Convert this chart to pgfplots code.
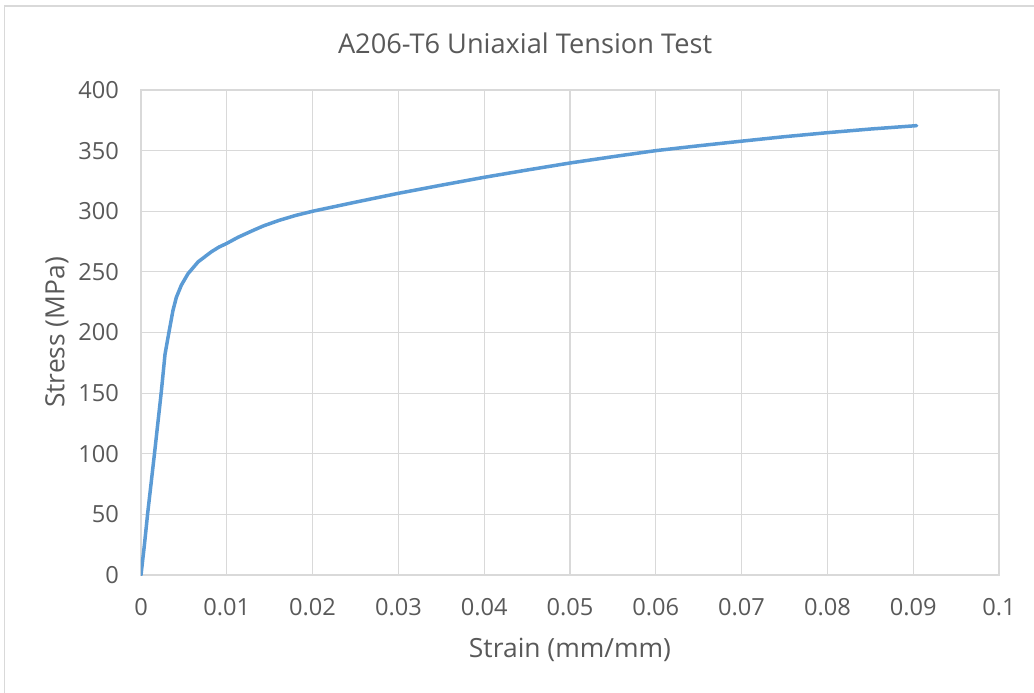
\documentclass[border=0pt]{standalone}
\usepackage{pgfplots}
\pgfplotsset{compat=1.18}
\usepackage{fontspec}
\setmainfont{Open Sans}
\definecolor{gridgray}{HTML}{D9D9D9}
\definecolor{textgray}{HTML}{595959}
\definecolor{xlblue}{HTML}{5B9BD5}

\begin{document}
\begin{tikzpicture}
  % page = 1034 x 692 px, 1 px = 0.5pt
  \path[use as bounding box] (0,0) rectangle (517pt,346pt);
  \draw[gridgray, line width=0.6pt] (2.25pt,-5pt) |- (525pt,343pt);
  \begin{axis}[%
    at={(70.5pt,58.5pt)}, anchor=south west,
    scale only axis,
    width=429pt, height=242.5pt,
    xmin=0, xmax=0.1, ymin=0, ymax=400,
    xtick={0,0.01,...,0.1}, ytick={0,50,...,400},
    major tick length=0pt,
    grid=major,
    grid style={gridgray, line width=0.6pt},
    axis line style={gridgray, line width=0.6pt},
    font=\fontsize{11.8}{14}\selectfont,
    every tick label/.append style={text=textgray},
    /pgf/number format/assume math mode=true,
    /pgf/number format/.cd, fixed, precision=2, /pgfplots/.cd,
    xticklabel style={yshift=-8pt},
    yticklabel style={xshift=-7.5pt},
    title={A206-T6 Uniaxial Tension Test},
    title style={at={(axis description cs:0.4476,1.072)}, anchor=center,
      font=\fontsize{13.6}{16}\selectfont, text=textgray},
    xlabel={Strain (mm/mm)},
    xlabel style={at={(axis description cs:0.5,-0.1546)}, anchor=center,
      font=\fontsize{13.2}{16}\selectfont, text=textgray},
    ylabel={Stress (MPa)},
    ylabel style={at={(axis description cs:-0.0979,0.5)}, anchor=center,
      font=\fontsize{13.2}{16}\selectfont, text=textgray},
  ]
    \addplot[xlblue, line width=1.75pt, line join=round, line cap=round] coordinates {
      (0,0) (0.0004,25) (0.00078,51) (0.00157,100) (0.00235,150)
      (0.0028,182) (0.0031,194) (0.00333,203) (0.00372,218) (0.00412,229)
      (0.0047,239) (0.00548,248.5) (0.00666,258.3) (0.00823,266.7)
      (0.0091,270.5) (0.01,273.5) (0.0113,278.5) (0.0130,284) (0.0143,288)
      (0.0161,292.5) (0.018,296.5) (0.02,300) (0.025,307.5) (0.03,314.8)
      (0.035,321.5) (0.04,328) (0.045,334) (0.05,339.8) (0.055,345)
      (0.06,350) (0.065,354) (0.07,357.8) (0.075,361.5) (0.08,364.8)
      (0.085,367.8) (0.0904,370.6)
    };
  \end{axis}
\end{tikzpicture}
\end{document}
